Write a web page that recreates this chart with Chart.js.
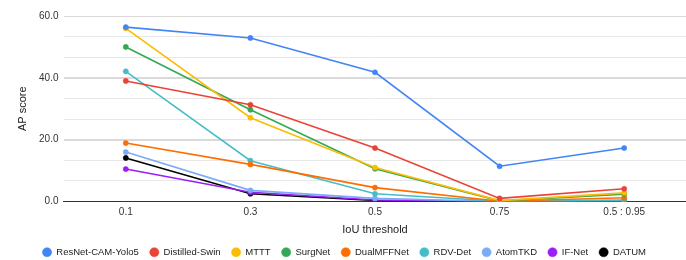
<!DOCTYPE html>
<html>
<head>
<meta charset="utf-8">
<script src="https://cdn.jsdelivr.net/npm/chart.js@4"></script>
<style>
  html, body { margin: 0; padding: 0; background: #fff; overflow: hidden; }
  #wrap { width: 690px; height: 267px; }
</style>
</head>
<body>
<div id="wrap"><canvas id="chart"></canvas></div>
<script>
const thresholds = ['0.1', '0.3', '0.5', '0.75', '0.5 : 0.95'];

const resnetCamYolo5 = [56.4, 52.9, 41.8, 11.4, 17.3];
const distilledSwin = [39.0, 31.3, 17.3, 1.0, 4.1];
const mttt = [56.0, 27.1, 11.0, 0.3, 2.8];
const surgNet = [50.0, 29.7, 10.6, 0.2, 2.4];
const dualMffNet = [18.9, 12.0, 4.5, 0.1, 1.2];
const rdvDet = [42.1, 13.2, 2.5, 0.1, 0.5];
const atomTkd = [16.0, 3.6, 1.0, 0.0, 0.2];
const ifNet = [10.5, 3.0, 0.5, 0.0, 0.0];
const datum = [14.1, 2.5, 0.3, 0.0, 0.1];

const seriesNames = ['ResNet-CAM-Yolo5', 'Distilled-Swin', 'MTTT', 'SurgNet', 'DualMFFNet', 'RDV-Det', 'AtomTKD', 'IF-Net', 'DATUM'];
const seriesValues = [resnetCamYolo5, distilledSwin, mttt, surgNet, dualMffNet, rdvDet, atomTkd, ifNet, datum];
const seriesColors = ['#4285f4', '#ea4335', '#fbbc04', '#34a853', '#ff6d01', '#46bdc6', '#7baaf7', '#9b1ff5', '#000000'];

// y gridlines every 60/9, labels only every 20
const isMajor = v => Math.round(v * 3) % 60 === 0;

document.addEventListener('DOMContentLoaded', () => {
    const ctx = document.getElementById('chart').getContext('2d');
    const datasets = seriesNames.map((name, i) => ({
        label: name,
        data: seriesValues[i],
        borderColor: seriesColors[i],
        backgroundColor: seriesColors[i],
        borderWidth: 1.6,
        pointRadius: 2.6,
        pointBorderWidth: 0.5,
        pointHoverRadius: 3,
        order: i
    }));

    new Chart(ctx, {
        type: 'line',
        data: { labels: thresholds, datasets: datasets },
        options: {
            responsive: true,
            maintainAspectRatio: false,
            animation: false,
            layout: { padding: { top: 16, right: 1.5, left: 0, bottom: 0 } },
            plugins: {
                legend: {
                    position: 'bottom',
                    labels: {
                        usePointStyle: true,
                        pointStyle: 'circle',
                        boxWidth: 9,
                        boxHeight: 6.5,
                        padding: 11,
                        color: '#222',
                        font: { family: 'Liberation Sans', size: 9.5 }
                    }
                },
                tooltip: { enabled: false }
            },
            scales: {
                x: {
                    offset: true,
                    afterFit: axis => { axis.height = 35; },
                    grid: { display: false, drawTicks: false },
                    border: { color: '#333', width: 1 },
                    ticks: { color: '#333', padding: 5, font: { family: 'Liberation Sans', size: 10 } },
                    title: { display: true, text: 'IoU threshold', color: '#222', padding: { top: 4, bottom: 0 }, font: { family: 'Liberation Sans', size: 11 } }
                },
                y: {
                    min: 0,
                    max: 60,
                    afterFit: axis => { axis.width = 63.5; },
                    afterBuildTicks: axis => {
                        const t = [];
                        for (let k = 0; k <= 9; k++) t.push({ value: k * 20 / 3 });
                        axis.ticks = t;
                    },
                    grid: {
                        drawTicks: false,
                        color: c => (isMajor(c.tick.value) ? '#d9d9d9' : '#e8e8e8'),
                        lineWidth: c => (isMajor(c.tick.value) && c.tick.value > 0 && c.tick.value < 60 ? 2 : 1)
                    },
                    border: { display: false },
                    ticks: {
                        autoSkip: false,
                        color: '#333',
                        padding: 5,
                        font: { family: 'Liberation Sans', size: 10 },
                        callback: v => (isMajor(v) ? Math.round(v).toFixed(1) : '')
                    },
                    title: { display: true, text: 'AP score', color: '#222', padding: { top: 16, bottom: 0 }, font: { family: 'Liberation Sans', size: 11 } }
                }
            }
        }
    });
});
</script>
</body>
</html>
